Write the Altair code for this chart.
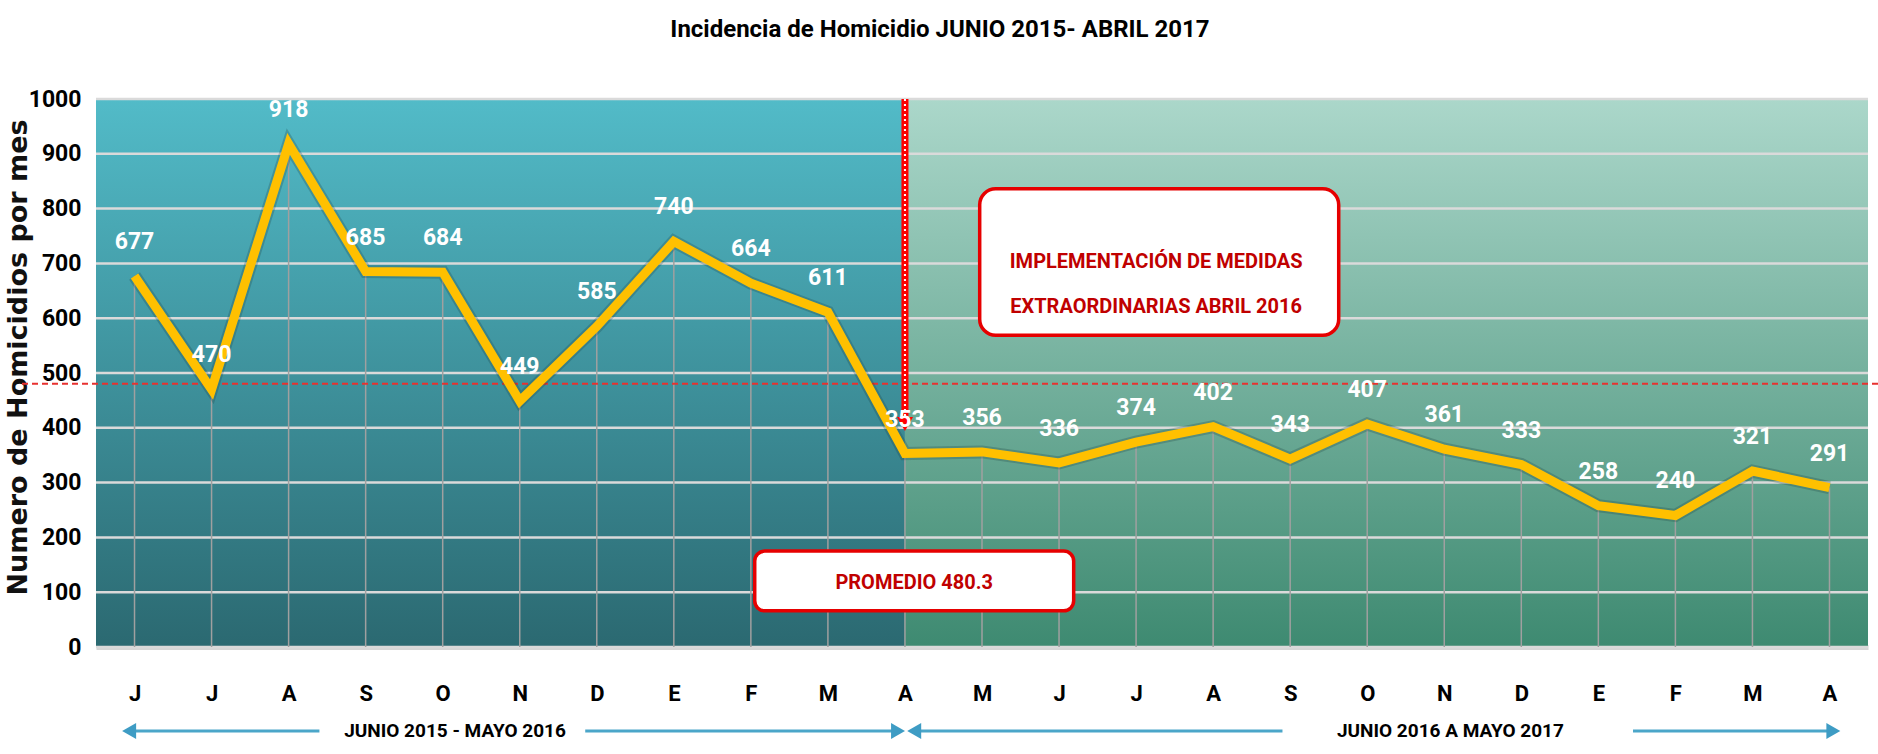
import json
import altair as alt
import pandas as pd

# ---------------- data ----------------
months = ["J", "J", "A", "S", "O", "N", "D", "E", "F", "M", "A",
          "M", "J", "J", "A", "S", "O", "N", "D", "E", "F", "M", "A"]
values = [677, 470, 918, 685, 684, 449, 585, 740, 664, 611, 353,
          356, 336, 374, 402, 343, 407, 361, 333, 258, 240, 321, 291]
promedio = 480.3
y_ticks = list(range(0, 1001, 100))
split_index = 10

title_text = "Incidencia de Homicidio JUNIO 2015- ABRIL 2017"
y_title = "Numero de Homicidios por mes"
box1_lines = ["IMPLEMENTACIÓN DE MEDIDAS", "EXTRAORDINARIAS ABRIL 2016"]
box2_text = "PROMEDIO 480.3"
period_labels = ["JUNIO 2015 - MAYO 2016", "JUNIO 2016 A MAYO 2017"]

# ---------------- layout ----------------
W, H = 1772, 548
NARROW = "Roboto, Liberation Sans, sans-serif"

df = pd.DataFrame({"i": list(range(len(values))), "m": months, "v": values})
xs = alt.Scale(domain=[-0.5, len(values) - 0.5], nice=False, zero=False)
ys = alt.Scale(domain=[0, 1000], nice=False)

AX_X = alt.Axis(
    values=list(range(len(values))), labelExpr=f"{json.dumps(months)}[datum.value]",
    ticks=False, grid=False, labelPadding=36, labelFont=NARROW, labelFontWeight="bold",
    labelFontSize=22, labelColor="black", domainColor="#D6D6D6", domainWidth=5, title=None)
AX_Y = alt.Axis(
    values=y_ticks, format="d", ticks=False, grid=False, domain=False, labelPadding=15,
    labelFont=NARROW, labelFontWeight="bold", labelFontSize=23, labelColor="black",
    title=y_title, titleFont="DejaVu Sans", titleFontWeight="bold", titleFontSize=27,
    titleColor="#111111", titleAngle=270, titleX=-78, titleY=H / 2 - 16,
    titleAlign="center", titleBaseline="middle")


def X(f="i"):
    return alt.X(f"{f}:Q", scale=xs, axis=AX_X)


def Y(f="v"):
    return alt.Y(f"{f}:Q", scale=ys, axis=AX_Y)


def grad(top, bottom):
    return alt.Gradient(gradient="linear",
                        stops=[alt.GradientStop(color=top, offset=0),
                               alt.GradientStop(color=bottom, offset=1)],
                        x1=0, x2=0, y1=0, y2=1)


bg_left = alt.Chart(pd.DataFrame({"x": [-0.5], "x2": [split_index], "y": [0], "y2": [1000]})).mark_rect(
    fill=grad("#52BBC8", "#2B6971")).encode(x=X("x"), x2="x2:Q", y=Y("y"), y2="y2:Q")
bg_right = alt.Chart(pd.DataFrame({"x": [split_index], "x2": [len(values) - 0.5], "y": [0], "y2": [1000]})).mark_rect(
    fill=grad("#ABD7CA", "#3E8A71")).encode(x=X("x"), x2="x2:Q", y=Y("y"), y2="y2:Q")

grid = alt.Chart(pd.DataFrame({"t": y_ticks})).mark_rule(color="#DADADA", strokeWidth=2.5).encode(
    y=Y("t"))

drops = alt.Chart(df).mark_rule(color="#A0A0A0", strokeWidth=1.5).encode(
    x=X(), y=Y(), y2=alt.datum(0))

mean_rule = alt.Chart(pd.DataFrame({"p": [promedio]})).mark_rule(
    color="#E8312F", strokeWidth=2, strokeDash=[6, 4]).encode(
    y=Y("p"), x=alt.value(-74), x2=alt.value(W + 10))

shadow = alt.Chart(df).mark_line(color="#1a3a3a", opacity=0.25, strokeWidth=13).encode(x=X(), y=Y())
line = alt.Chart(df).mark_line(color="#FFC000", strokeWidth=9).encode(x=X(), y=Y())

labels = alt.Chart(df).mark_text(color="white", font=NARROW, fontWeight="bold", fontSize=23,
                                 baseline="middle", dy=-34).encode(
    x=X(), y=Y(), text="v:Q")

# red vertical arrow at split
vdf = pd.DataFrame({"x": [split_index], "y": [1000], "y2": [420], "tip": [407]})
vline = alt.Chart(vdf).mark_rule(color="#FF0000", strokeWidth=7).encode(x=X("x"), y=Y("y"), y2="y2:Q")
vline_dots = alt.Chart(vdf).mark_rule(color="white", strokeWidth=2, strokeDash=[2, 3]).encode(
    x=X("x"), y=Y("y"), y2="y2:Q")
vhead = alt.Chart(vdf).mark_point(shape="triangle-down", filled=True, color="#FF0000", size=260,
                                  opacity=1).encode(x=X("x"), y=Y("tip"))

# annotation boxes
b1 = pd.DataFrame({"x": [10.97], "x2": [15.63], "y": [569], "y2": [836], "cx": [13.26], "cy": [702],
                   "t": [box1_lines]})
box1 = alt.Chart(b1).mark_rect(fill="white", stroke="#E60000", strokeWidth=3.5, cornerRadius=16).encode(
    x=X("x"), x2="x2:Q", y=Y("y"), y2="y2:Q")
box1_t = alt.Chart(b1).mark_text(color="#C00000", font=NARROW, fontWeight="bold", fontSize=20,
                                 lineHeight=45, baseline="middle").encode(
    x=X("cx"), y=Y("cy"), text="t")

b2 = pd.DataFrame({"x": [8.05], "x2": [12.19], "y": [66], "y2": [175], "cx": [10.12], "cy": [117],
                   "t": [box2_text]})
box2 = alt.Chart(b2).mark_rect(fill="white", stroke="#E60000", strokeWidth=3.5, cornerRadius=10).encode(
    x=X("x"), x2="x2:Q", y=Y("y"), y2="y2:Q")
box2_t = alt.Chart(b2).mark_text(color="#C00000", font=NARROW, fontWeight="bold", fontSize=20,
                                 baseline="middle").encode(x=X("cx"), y=Y("cy"), text="t:N")

# bottom period arrows
AY = 632
arr = pd.DataFrame({"x": [-0.07, 10.12], "x2": [9.91, 22.05],
                    "gx": [2.4, 14.9], "gx2": [5.85, 19.45],
                    "cx": [4.16, 17.08], "t": period_labels})
arr_line = alt.Chart(arr).mark_rule(color="#4BA6C9", strokeWidth=3).encode(
    x=X("x"), x2="x2:Q", y=alt.value(AY))
arr_gap = alt.Chart(arr).mark_rect(fill="white").encode(
    x=X("gx"), x2="gx2:Q", y=alt.value(AY - 14), y2=alt.value(AY + 14))
arr_l = alt.Chart(arr).mark_point(shape="triangle-left", filled=True, color="#3E9CC4", size=260,
                                  opacity=1).encode(x=X("x"), y=alt.value(AY))
arr_r = alt.Chart(arr).mark_point(shape="triangle-right", filled=True, color="#3E9CC4", size=260,
                                  opacity=1).encode(x=X("x2"), y=alt.value(AY))
arr_t = alt.Chart(arr).mark_text(color="black", font=NARROW, fontWeight="bold", fontSize=19,
                                 baseline="middle").encode(x=X("cx"), y=alt.value(AY), text="t:N")

title = alt.Chart(pd.DataFrame({"t": [title_text]})).mark_text(
    color="black", font=NARROW, fontWeight="bold", fontSize=24, baseline="middle").encode(
    x=alt.value(844), y=alt.value(-69), text="t:N")

chart = alt.layer(
    bg_left, bg_right, grid, drops, mean_rule, shadow, line, vline, vline_dots, vhead,
    box1, box1_t, box2, box2_t, labels,
    arr_line, arr_gap, arr_l, arr_r, arr_t, title
).properties(
    width=W, height=H,
    autosize=alt.AutoSizeParams(type="none"),
    padding={"left": 96, "top": 99, "right": 10, "bottom": 107},
    background="white",
).configure_view(stroke=None)

chart.save("out.html", embed_options={"renderer": "svg", "actions": False})
